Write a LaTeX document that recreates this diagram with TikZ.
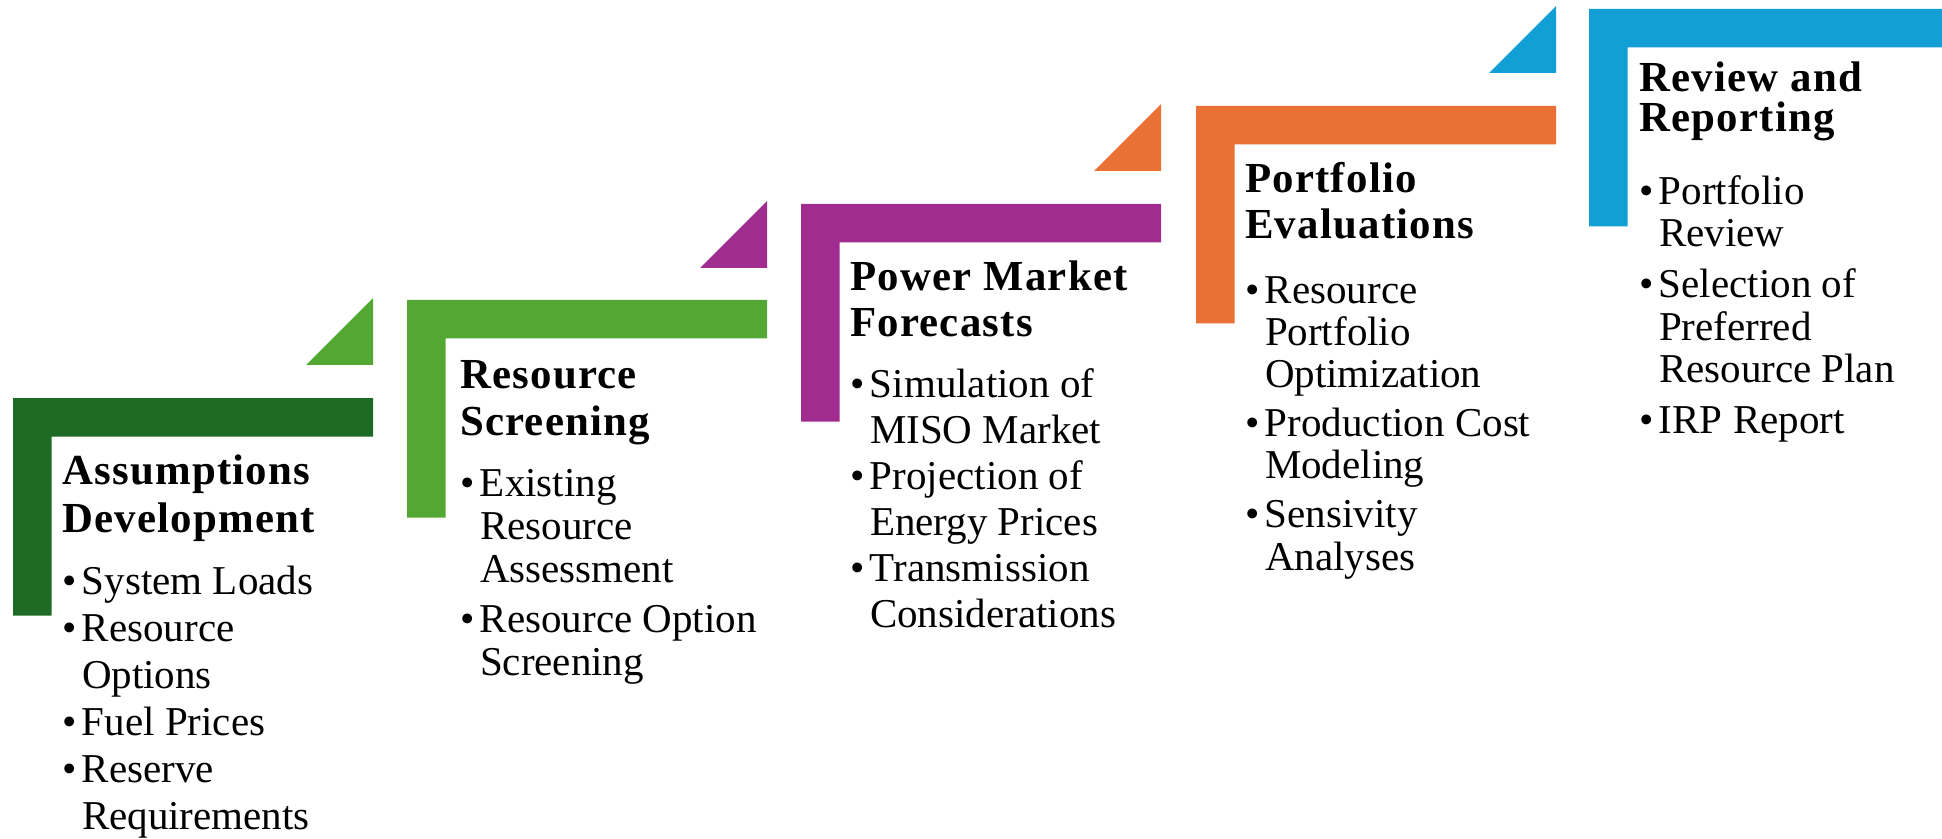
\documentclass[tikz,border=0pt]{standalone}
\usepackage{fontspec}
\setmainfont{Liberation Serif}
\usepackage{tikz}
\usetikzlibrary{positioning}

\definecolor{dkgreen}{HTML}{1E6B25}
\definecolor{ltgreen}{HTML}{52A832}
\definecolor{purp}{HTML}{A12C8F}
\definecolor{orng}{HTML}{EA7135}
\definecolor{blu}{HTML}{129FD6}

\newcommand{\bitem}{\makebox[10pt][l]{\textbullet}}
\newcommand{\bcont}{\makebox[10pt]{}}

\begin{document}
\begin{tikzpicture}[
  x=0.5pt, y=-0.5pt,
  every node/.style={inner sep=0pt, outer sep=0pt, anchor=base west, align=left},
  head/.style={font=\bfseries\fontsize{21.4}{#1}\selectfont\addfontfeatures{LetterSpace=3}},
  items/.style={font=\fontsize{20.5}{#1}\selectfont}
]
\useasboundingbox (0,0) rectangle (1942,839);

% L-shaped bars
\fill[dkgreen] (13,398) -- ++(360,0) -- ++(0,38.5) -- ++(-321.5,0) -- ++(0,179) -- ++(-38.5,0) -- cycle;
\fill[ltgreen] (407,300) -- ++(360,0) -- ++(0,38.5) -- ++(-321.5,0) -- ++(0,179) -- ++(-38.5,0) -- cycle;
\fill[purp] (801,204) -- ++(360,0) -- ++(0,38.5) -- ++(-321.5,0) -- ++(0,179) -- ++(-38.5,0) -- cycle;
\fill[orng] (1196,106) -- ++(360,0) -- ++(0,38.5) -- ++(-321.5,0) -- ++(0,179) -- ++(-38.5,0) -- cycle;
\fill[blu] (1589,9) -- ++(353,0) -- ++(0,38.5) -- ++(-314.5,0) -- ++(0,179) -- ++(-38.5,0) -- cycle;

% step triangles
\fill[ltgreen] (373,365) -- ++(-67,0) -- ++(67,-67) -- cycle;
\fill[purp] (767,268) -- ++(-67,0) -- ++(67,-67) -- cycle;
\fill[orng] (1161,171) -- ++(-67,0) -- ++(67,-67) -- cycle;
\fill[blu] (1556,73) -- ++(-67,0) -- ++(67,-67) -- cycle;

% stage 1 (base = last line)
\node[head=24pt] (t1) at (62,532) {Assumptions\\Development};
\node[items=23.5pt] (l1) at (62,829) {\bitem System Loads\\\bitem Resource\\\bcont Options\\\bitem Fuel Prices\\\bitem Reserve\\\bcont Requirements};

% stage 2
\node[head=23.5pt] (t2) at (460,435) {Resource\\Screening};
\node[items=21.5pt] (l2) at (460,675) {\bitem Existing\\\bcont Resource\\\bcont Assessment\\[3.5pt]\bitem Resource Option\\\bcont Screening};

% stage 3
\node[head=23.5pt] (t3) at (850,337) {Power Market\\Forecasts};
\node[items=23pt] (l3) at (850,627) {\bitem Simulation of\\\bcont MISO Market\\\bitem Projection of\\\bcont Energy Prices\\\bitem Transmission\\\bcont Considerations};

% stage 4
\node[head=23pt] (t4) at (1245,239) {Portfolio\\Evaluations};
\node[items=21.1pt] (l4) at (1245,570) {\bitem Resource\\\bcont Portfolio\\\bcont Optimization\\[3.4pt]\bitem Production Cost\\\bcont Modeling\\[3.4pt]\bitem Sensivity\\\bcont Analyses};

% stage 5
\node[head=20pt] (t5) at (1639,132) {Review and\\Reporting};
\node[items=21.5pt] (l5) at (1639,433) {\bitem Portfolio\\\bcont Review\\[3.5pt]\bitem Selection of\\\bcont Preferred\\\bcont Resource Plan\\[3.5pt]\bitem IRP Report};

\end{tikzpicture}
\end{document}
